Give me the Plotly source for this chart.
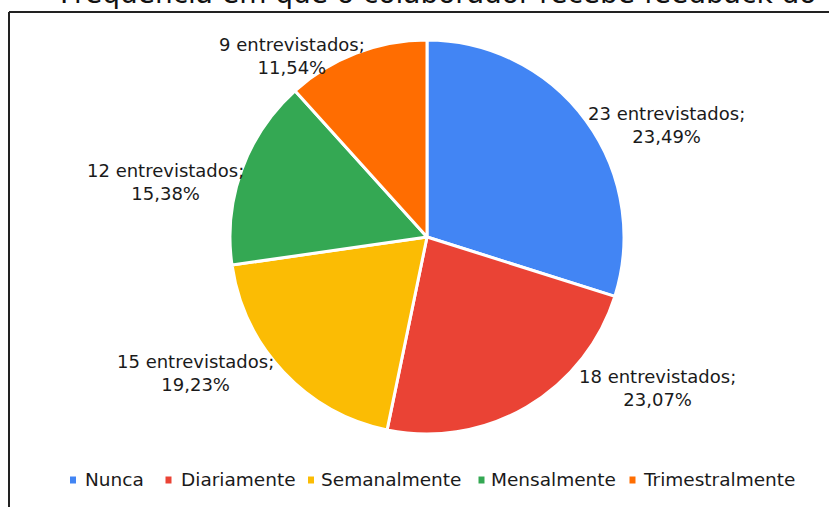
import plotly.graph_objects as go

categories = ["Nunca", "Diariamente", "Semanalmente", "Mensalmente", "Trimestralmente"]
entrevistados = [23, 18, 15, 12, 9]
percent_labels = ["23,49%", "23,07%", "19,23%", "15,38%", "11,54%"]
colors = ["#4285F4", "#EA4335", "#FBBC04", "#34A853", "#FF6D01"]
title_text = "Frequência em que o colaborador recebe feedback do"

W, H = 829, 507
cx, cy, r = 427, 237, 197
FONT = "DejaVu Sans, Liberation Sans, Arial"
TXT = "#1a1a1a"

# label block centres (px) and legend layout (px) -- layout only
label_pos = [(666, 125), (657, 388), (195, 373), (165, 182), (292, 56)]
legend_marker_x = [73, 168.5, 311, 481.5, 632.5]
legend_text_x = [83, 179, 319, 489, 641]
legend_y = 480

def px(x):
    return x / W

def py(y):
    return 1 - y / H

fig = go.Figure(go.Pie(
    labels=categories,
    values=entrevistados,
    textinfo="none",
    marker=dict(colors=colors, line=dict(color="white", width=3)),
    sort=False,
    direction="clockwise",
    rotation=0,
    showlegend=False,
    hoverinfo="label+value",
    domain=dict(x=[px(cx - r), px(cx + r)], y=[py(cy + r), py(cy - r)]),
))

annotations = []
for cat, v, p, (lx, ly) in zip(categories, entrevistados, percent_labels, label_pos):
    annotations.append(dict(
        text=f"{v} entrevistados;<br>{p}", xref="paper", yref="paper",
        x=px(lx), y=py(ly), xanchor="center", yanchor="middle", align="center",
        showarrow=False, font=dict(family=FONT, size=18, color=TXT)))

shapes = []
for cat, col, mx, tx in zip(categories, colors, legend_marker_x, legend_text_x):
    shapes.append(dict(type="rect", xref="paper", yref="paper",
                       x0=px(mx - 3), x1=px(mx + 3), y0=py(legend_y + 3.5), y1=py(legend_y - 3.5),
                       fillcolor=col, line=dict(width=0)))
    annotations.append(dict(text=cat, xref="paper", yref="paper", x=px(tx), y=py(legend_y - 1),
                            xanchor="left", yanchor="middle", showarrow=False,
                            font=dict(family=FONT, size=18.5, color=TXT)))

# partially visible caption at the very top
annotations.append(dict(text="–", xref="paper", yref="paper", x=px(1), y=py(-6),
                        xanchor="left", yanchor="middle", showarrow=False,
                        font=dict(family=FONT, size=28, color="#111111")))
annotations.append(dict(text=title_text, xref="paper", yref="paper", x=px(438), y=py(-6),
                        xanchor="center", yanchor="middle", showarrow=False,
                        font=dict(family=FONT, size=28, color="#111111")))

# frame lines
shapes.append(dict(type="line", xref="paper", yref="paper", x0=px(9), x1=1.0, y0=py(12), y1=py(12),
                   line=dict(color="#222222", width=2)))
shapes.append(dict(type="line", xref="paper", yref="paper", x0=px(9), x1=px(9), y0=0, y1=py(12),
                   line=dict(color="#222222", width=2)))

fig.update_layout(
    width=W, height=H,
    margin=dict(l=0, r=0, t=0, b=0),
    paper_bgcolor="white",
    plot_bgcolor="white",
    font=dict(family=FONT, size=18, color=TXT),
    annotations=annotations,
    shapes=shapes,
)

fig.write_html("out.html", config={"displayModeBar": False},
               post_script="document.body.style.margin='0';document.body.style.overflow='hidden';")
